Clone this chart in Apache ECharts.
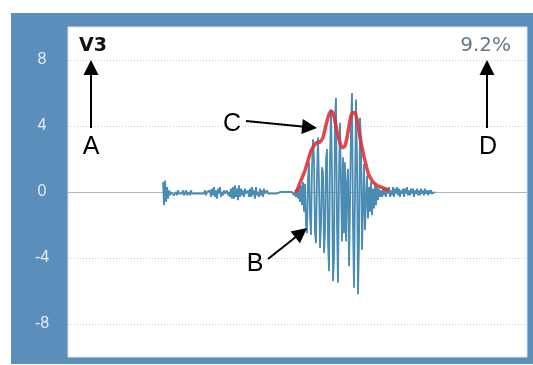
<!DOCTYPE html>
<html>
<head>
<meta charset="utf-8">
<script src="https://cdn.jsdelivr.net/npm/echarts@6/dist/echarts.min.js"></script>
<style>
html,body{margin:0;padding:0;background:#ffffff;}
#chart{width:533px;height:365px;}
</style>
</head>
<body>
<div id="chart"></div>
<script>
// ---- data ----
var yTicks = [-8, -4, 0, 4, 8];
var gridLevels = [8, 4, -4, -8];
var sampleCount = 459;          // samples across the plot
var signalStart = 95;           // first sample index of the trace
var signal = [
  // quiet lead-in
  0.6,-0.8,0.7,-0.6,0.3,-0.4,0.1,-0.2,0.0,-0.1,0.1,-0.2,-0.1,0.0,-0.2,0.1,-0.1,-0.2,0.0,-0.1,
  0.1,-0.2,-0.1,0.1,-0.2,0.0,-0.1,-0.2,0.1,-0.1,0.0,-0.2,-0.1,0.0,-0.1,-0.1,0.0,-0.1,-0.1,0.0,
  -0.1,-0.1,0.1,-0.2,0.0,-0.1,-0.1,0.1,-0.3,0.2,-0.2,0.3,-0.3,0.1,-0.4,0.2,-0.1,0.3,-0.3,0.0,
  -0.2,0.1,-0.1,-0.2,0.1,-0.2,0.0,-0.3,0.2,-0.4,0.3,-0.4,0.4,-0.3,0.2,-0.5,0.4,-0.3,0.2,-0.2,
  0.1,-0.3,0.2,-0.1,-0.2,0.1,-0.3,0.2,-0.3,0.3,-0.2,0.1,-0.4,0.3,-0.2,0.0,-0.3,0.2,-0.2,0.1,
  -0.3,0.2,-0.1,-0.2,0.1,-0.1,-0.2,0.0,-0.1,-0.1,0.0,-0.1,-0.1,0.0,-0.1,-0.1,-0.1,0.0,-0.1,-0.1,
  0.0,-0.1,-0.1,0.0,-0.1,-0.1,0.0,-0.1,-0.1,0.0,-0.1,-0.2,0.0,-0.3,
  // burst
  0.2,-0.4,0.3,-0.6,0.4,-0.8,0.6,-1.2,0.5,-2.0,-2.5,0.8,1.8,-1.5,-2.6,1.5,3.2,2.0,-2.5,-3.1,
  1.0,3.3,0.5,-3.4,-2.0,1.5,1.2,-3.7,-2.5,2.0,2.6,-3.0,-4.8,2.0,5.0,1.0,-5.4,-4.0,4.5,5.7,
  -2.0,-5.5,1.0,4.2,0.5,-3.0,2.1,-2.5,1.8,-3.0,0.5,1.4,-4.5,-1.0,4.0,6.0,-2.0,-5.8,0.0,5.6,
  2.0,-6.2,-3.0,4.5,3.0,-3.5,-1.0,1.7,-2.3,-0.5,1.0,-1.6,0.3,-1.2,0.6,-1.4,0.2,-1.0,0.4,-0.8,
  0.3,-0.5,0.2,-0.3,
  // tail
  0.1,-0.3,0.2,-0.2,0.3,-0.3,0.2,-0.1,0.3,-0.3,0.1,-0.2,0.3,-0.3,0.2,-0.1,0.3,-0.2,0.2,-0.3,
  0.1,-0.1,0.2,-0.3,0.2,-0.1,0.3,-0.2,0.1,-0.2,0.2,-0.1,0.2,-0.3,0.1,-0.1,0.2,-0.2,0.1,-0.2,
  0.2,-0.1,0.1,-0.2,0.2,-0.1,0.1,-0.2,0.1,-0.1,0.1,-0.1,0.0,-0.1,0.0
];
var envelopeStart = 227;
var envelopeStep = 2;
var envelope = [
  0.0,0.1,0.4,0.7,1.0,1.3,1.7,2.1,2.5,2.7,2.9,3.0,3.0,3.1,3.3,3.8,4.3,4.7,4.9,4.8,
  4.3,3.7,3.2,2.8,2.7,2.8,3.3,4.0,4.6,4.8,4.8,4.4,3.7,3.0,2.4,1.9,1.4,1.0,0.8,0.6,
  0.5,0.4,0.35,0.3,0.25,0.2,0.15,0.1
];
var leadLabel = 'V3';
var valueLabel = '9.2%';

// ---- build ----
var signalData = signal.map(function (v, i) { return [signalStart + i, v]; });
var envelopeData = envelope.map(function (v, i) { return [envelopeStart + i * envelopeStep, v]; });

var chart = echarts.init(document.getElementById('chart'), null, {renderer: 'canvas'});

function arrowHead(tip, dir, len, half) {
  var l = Math.sqrt(dir[0] * dir[0] + dir[1] * dir[1]);
  var ux = dir[0] / l, uy = dir[1] / l;
  var bx = tip[0] - ux * len, by = tip[1] - uy * len;
  var px = -uy * half, py = ux * half;
  return [[tip[0], tip[1]], [bx + px, by + py], [bx - px, by - py]];
}
function arrow(from, tip) {
  var dir = [tip[0] - from[0], tip[1] - from[1]];
  var l = Math.sqrt(dir[0] * dir[0] + dir[1] * dir[1]);
  var end = [tip[0] - dir[0] / l * 10, tip[1] - dir[1] / l * 10];
  return [
    {type: 'line', z: 100, shape: {x1: from[0], y1: from[1], x2: end[0], y2: end[1]},
     style: {stroke: '#000', lineWidth: 2}},
    {type: 'polygon', z: 100, shape: {points: arrowHead(tip, dir, 15, 7.5)},
     style: {fill: '#000'}}
  ];
}
function letter(t, x, y) {
  return {type: 'text', z: 100, style: {text: t, x: x, y: y, fill: '#000',
    font: '25px "Liberation Sans", Arial, sans-serif', align: 'center', verticalAlign: 'middle'}};
}

var graphics = [
  {type: 'rect', z: -2, shape: {x: 11, y: 13, width: 522, height: 351},
   style: {fill: '#5b8ebb'}},
  {type: 'rect', z: -1, shape: {x: 68, y: 27, width: 459, height: 330},
   style: {fill: '#ffffff', stroke: '#d8e6f0', lineWidth: 1}},
  {type: 'text', z: 100, style: {text: leadLabel, x: 79, y: 46,
    font: 'bold 19px "DejaVu Sans", Verdana, sans-serif', fill: '#111', verticalAlign: 'middle'}},
  {type: 'text', z: 100, style: {text: valueLabel, x: 511, y: 46, align: 'right',
    font: '20px "DejaVu Sans", Verdana, sans-serif', fill: '#62798b', verticalAlign: 'middle'}},
  letter('A', 91, 147),
  letter('B', 255, 264),
  letter('C', 232, 124),
  letter('D', 488, 147)
]
  .concat(arrow([91, 128], [91, 60]))
  .concat(arrow([487, 128], [487, 60]))
  .concat(arrow([246, 121], [317, 128]))
  .concat(arrow([268, 259], [307, 228]));

var gridMarks = gridLevels.map(function (v) {
  return {yAxis: v, lineStyle: {color: '#c9cdd2', type: [1, 2], width: 1}};
});
gridMarks.push({yAxis: 0, lineStyle: {color: '#a9b6c0', type: 'solid', width: 1}});

chart.setOption({
  animation: false,
  backgroundColor: 'transparent',
  grid: {left: 68, top: 27, width: 459, height: 330, show: false},
  xAxis: {type: 'value', min: 0, max: sampleCount, show: false},
  yAxis: {
    type: 'value', min: -10, max: 10, interval: 2,
    axisLine: {show: false}, axisTick: {show: false}, splitLine: {show: false},
    axisLabel: {
      color: '#e3edf5', fontSize: 16, fontFamily: '"Liberation Sans", Arial, sans-serif',
      align: 'center', margin: 26,
      formatter: function (v) { return yTicks.indexOf(v) >= 0 ? String(v) : ''; }
    }
  },
  graphic: graphics,
  series: [
    {
      type: 'line', name: 'grid', data: [], silent: true, z: 1,
      markLine: {silent: true, symbol: 'none', label: {show: false}, z: 1, data: gridMarks}
    },
    {
      type: 'line', name: 'signal', data: signalData, showSymbol: false, z: 3,
      lineStyle: {color: '#4a8cb2', width: 1.8}, silent: true
    },
    {
      type: 'line', name: 'envelope', data: envelopeData, showSymbol: false, smooth: 0.2, z: 4,
      lineStyle: {color: '#e0323a', width: 3.5, opacity: 0.9}, silent: true
    }
  ]
});
</script>
</body>
</html>
